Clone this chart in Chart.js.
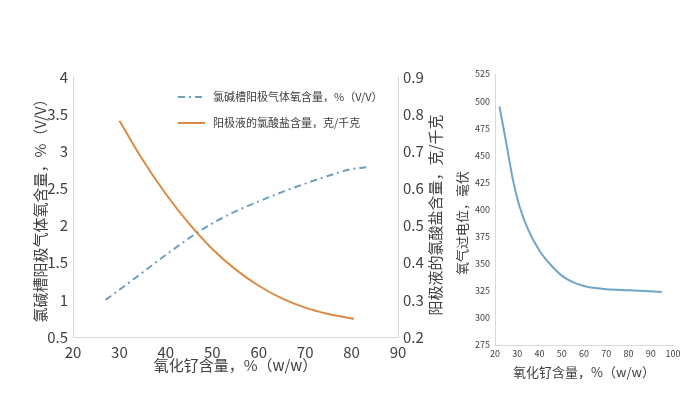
<!DOCTYPE html>
<html>
<head>
<meta charset="utf-8">
<script src="https://cdn.jsdelivr.net/npm/chart.js@4/dist/chart.umd.min.js"></script>
<style>
html, body { margin: 0; padding: 0; background: #fff; }
#wrap { position: relative; width: 700px; height: 394px; overflow: hidden; }
#left { position: absolute; left: 0; top: 0; }
#right { position: absolute; left: 450px; top: 0; }
</style>
</head>
<body>
<div id="wrap">
  <canvas id="left" width="460" height="394"></canvas>
  <canvas id="right" width="250" height="394"></canvas>
</div>
<script>
// left chart data
const o2X = [27, 30, 35, 40, 45, 50, 55, 60, 65, 70, 75, 80, 83.5];
const o2Values = [1.0, 1.135, 1.37, 1.605, 1.83, 2.03, 2.19, 2.325, 2.45, 2.565, 2.67, 2.76, 2.788];
const chlorateX = [30, 35, 40, 45, 50, 55, 60, 65, 70, 75, 80.5];
const chlorateValues = [0.782, 0.677, 0.585, 0.505, 0.437, 0.382, 0.338, 0.304, 0.279, 0.262, 0.249];
const seriesNames = ['氯碱槽阳极气体氧含量，%（V/V）', '阳极液的氯酸盐含量，克/千克'];

// right chart data
const potX = [22, 25, 28, 31, 35, 40, 45, 50, 55, 60, 65, 70, 80, 95];
const potValues = [495, 462, 428, 403, 381, 362, 349, 339, 333, 329.5, 327.5, 326.5, 325.5, 324];

const xTitle = '氧化钌含量，%（w/w）';
const leftYTitle = '氯碱槽阳极气体氧含量，%（V/V）';
const rightYTitle = '阳极液的氯酸盐含量，克/千克';
const potYTitle = '氧气过电位，毫伏';

const FONT = '"Noto Sans CJK SC", "Noto Sans", sans-serif';
const TEXT = '#404040';
const AXIS = '#d9d9d9';

Chart.defaults.font.family = FONT;
Chart.defaults.color = TEXT;

const toPoints = (xs, ys) => xs.map((x, i) => ({ x: x, y: ys[i] }));
// force a scale's box size so the plot area lands where it should
const fixSize = (w, h) => (s) => {
  if (w) s.width = w;
  if (h) s.height = h;
};

// legend drawn inside the plot area
const insideLegend = {
  id: 'insideLegend',
  afterDraw(chart, args, opts) {
    if (!opts.show) return;
    const ctx = chart.ctx;
    ctx.save();
    chart.data.datasets.forEach((ds, i) => {
      const y = opts.y + i * opts.rowGap;
      ctx.strokeStyle = ds.borderColor;
      ctx.lineWidth = ds.borderWidth;
      ctx.setLineDash(ds.borderDash || []);
      ctx.beginPath();
      ctx.moveTo(opts.x, y);
      ctx.lineTo(opts.x + opts.lineLen, y);
      ctx.stroke();
      ctx.setLineDash([]);
      ctx.fillStyle = TEXT;
      ctx.font = '11px ' + FONT;
      ctx.textBaseline = 'middle';
      ctx.fillText(ds.label, opts.x + opts.lineLen + 8, y);
    });
    ctx.restore();
  }
};

// vertical titles read bottom-to-top, placed by hand
const sideTitles = {
  id: 'sideTitles',
  afterDraw(chart, args, opts) {
    const ctx = chart.ctx;
    (opts.items || []).forEach((t) => {
      ctx.save();
      ctx.translate(t.x, t.y);
      ctx.rotate(-Math.PI / 2);
      ctx.font = t.size + 'px ' + FONT;
      ctx.fillStyle = TEXT;
      ctx.textAlign = 'center';
      ctx.textBaseline = 'middle';
      ctx.fillText(t.text, 0, 0);
      ctx.restore();
    });
  }
};

const axisBase = {
  type: 'linear',
  grid: { display: true, drawOnChartArea: false, drawTicks: false },
  border: { color: AXIS, width: 1 }
};

new Chart(document.getElementById('left'), {
  type: 'line',
  data: {
    datasets: [{
      label: seriesNames[0],
      data: toPoints(o2X, o2Values),
      yAxisID: 'y',
      borderColor: '#6a9fbf',
      borderWidth: 2,
      borderDash: [7, 4, 2, 4],
      pointRadius: 0,
      cubicInterpolationMode: 'monotone'
    }, {
      label: seriesNames[1],
      data: toPoints(chlorateX, chlorateValues),
      yAxisID: 'y1',
      borderColor: '#dc8a45',
      borderWidth: 2,
      pointRadius: 0,
      cubicInterpolationMode: 'monotone'
    }]
  },
  options: {
    responsive: false,
    animation: false,
    layout: { padding: { top: 77, right: 0, bottom: 0, left: 0 } },
    plugins: {
      legend: { display: false },
      tooltip: { enabled: false },
      insideLegend: { show: true, x: 178, y: 97, rowGap: 26, lineLen: 27 },
      sideTitles: { items: [{ text: rightYTitle, x: 435, y: 215, size: 15 }] }
    },
    scales: {
      x: {
        ...axisBase,
        position: 'bottom',
        min: 20, max: 90,
        ticks: { stepSize: 10, padding: 6, font: { size: 15 } },
        title: { display: true, text: xTitle, font: { size: 15 }, padding: { top: 0, bottom: 20 } },
        afterFit: fixSize(0, 57)
      },
      y: {
        ...axisBase,
        position: 'left',
        min: 0.5, max: 4,
        ticks: { stepSize: 0.5, padding: 5, font: { size: 15 }, callback: (v) => String(Number(v.toFixed(1))) },
        title: { display: true, text: leftYTitle, font: { size: 15 }, padding: { top: 31, bottom: 0 } },
        afterFit: fixSize(73, 0)
      },
      y1: {
        ...axisBase,
        position: 'right',
        min: 0.2, max: 0.9,
        ticks: { stepSize: 0.1, padding: 5, font: { size: 15 }, callback: (v) => v.toFixed(1) },
        title: { display: false },
        afterFit: fixSize(62, 0)
      }
    }
  },
  plugins: [insideLegend, sideTitles]
});

new Chart(document.getElementById('right'), {
  type: 'line',
  data: {
    datasets: [{
      label: potYTitle,
      data: toPoints(potX, potValues),
      borderColor: '#6fa5c9',
      borderWidth: 2,
      pointRadius: 0,
      cubicInterpolationMode: 'monotone'
    }]
  },
  options: {
    responsive: false,
    animation: false,
    layout: { padding: { top: 74, right: 27, bottom: 0, left: 0 } },
    plugins: {
      legend: { display: false },
      tooltip: { enabled: false },
      sideTitles: { items: [{ text: potYTitle, x: 12, y: 223, size: 13 }] }
    },
    scales: {
      x: {
        ...axisBase,
        position: 'bottom',
        min: 20, max: 100,
        ticks: { stepSize: 10, padding: 3, font: { size: 9 } },
        title: { display: true, text: xTitle, font: { size: 13 }, padding: { top: 0, bottom: 14 } },
        afterFit: fixSize(0, 49)
      },
      y: {
        ...axisBase,
        position: 'left',
        min: 275, max: 525,
        ticks: { stepSize: 25, padding: 5, font: { size: 9 } },
        title: { display: false },
        afterFit: fixSize(45, 0)
      }
    }
  },
  plugins: [sideTitles]
});
</script>
</body>
</html>
